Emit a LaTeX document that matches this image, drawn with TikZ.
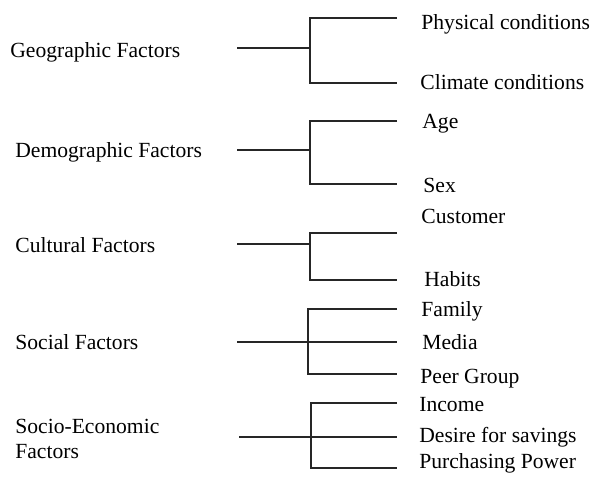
\documentclass[tikz,border=0pt]{standalone}
\usepackage{fontspec}
\setmainfont{Liberation Serif}
\usepackage{tikz}
\usetikzlibrary{positioning}

\begin{document}
\begin{tikzpicture}[x=0.5pt, y=-0.5pt]
  \tikzset{
    fac/.style={anchor=base west, inner sep=0pt,
                font=\fontsize{10.8}{12.6}\selectfont},
    sub/.style={anchor=base west, inner sep=0pt,
                font=\fontsize{10.8}{12.6}\selectfont},
    lnk/.style={draw=black!85, line width=0.55pt}
  }
  \useasboundingbox (0,0) rectangle (595,477);
  % Factor labels
  \node[fac] (geo) at (10,57)  {Geographic Factors};
  \node[fac] (dem) at (15,157) {Demographic Factors};
  \node[fac] (cul) at (15,252) {Cultural Factors};
  \node[fac] (soc) at (15,349) {Social Factors};
  \node[fac, anchor=west, align=left] (soe) at (15,439) {Socio-Economic\\Factors};
  % Sub-factor labels
  \foreach \n/\x/\y/\t in {phy/421/29/Physical conditions, cli/420/89/Climate conditions,
                           age/422/128/Age, sex/423/192/Sex,
                           cus/421/223/Customer, hab/424/286/Habits,
                           fam/421/316/Family, med/422/349/Media, peer/420/383/Peer Group,
                           inc/419/411/Income, des/419/442/Desire for savings,
                           pur/419/468/Purchasing Power}
    \node[sub] (\n) at (\x,\y) {\t};
  % Stems, junctions and branch ends
  \foreach \g/\xs/\ys/\xj in {geo/237/48/310, dem/237/150/310, cul/237/244/310,
                              soc/237/342/308, soe/239/437/311}
  {
    \coordinate (\g-s) at (\xs,\ys);
    \coordinate (\g-j) at (\xj,\ys);
  }
  \foreach \n/\y in {phy/18, cli/83, age/121, sex/184, cus/233, hab/280,
                     fam/309, med/342, peer/374, inc/403, des/437, pur/468}
    \coordinate (\n-e) at (397,\y);
  % Geographic
  \draw[lnk] (geo-s) -- (geo-j);
  \draw[lnk] (phy-e) -| (geo-j) |- (cli-e);
  % Demographic
  \draw[lnk] (dem-s) -- (dem-j);
  \draw[lnk] (age-e) -| (dem-j) |- (sex-e);
  % Cultural
  \draw[lnk] (cul-s) -- (cul-j);
  \draw[lnk] (cus-e) -| (cul-j) |- (hab-e);
  % Social
  \draw[lnk] (soc-s) -- (soc-j) -- (med-e);
  \draw[lnk] (fam-e) -| (soc-j) |- (peer-e);
  % Socio-Economic
  \draw[lnk] (soe-s) -- (soe-j) -- (des-e);
  \draw[lnk] (inc-e) -| (soe-j) |- (pur-e);
\end{tikzpicture}
\end{document}
